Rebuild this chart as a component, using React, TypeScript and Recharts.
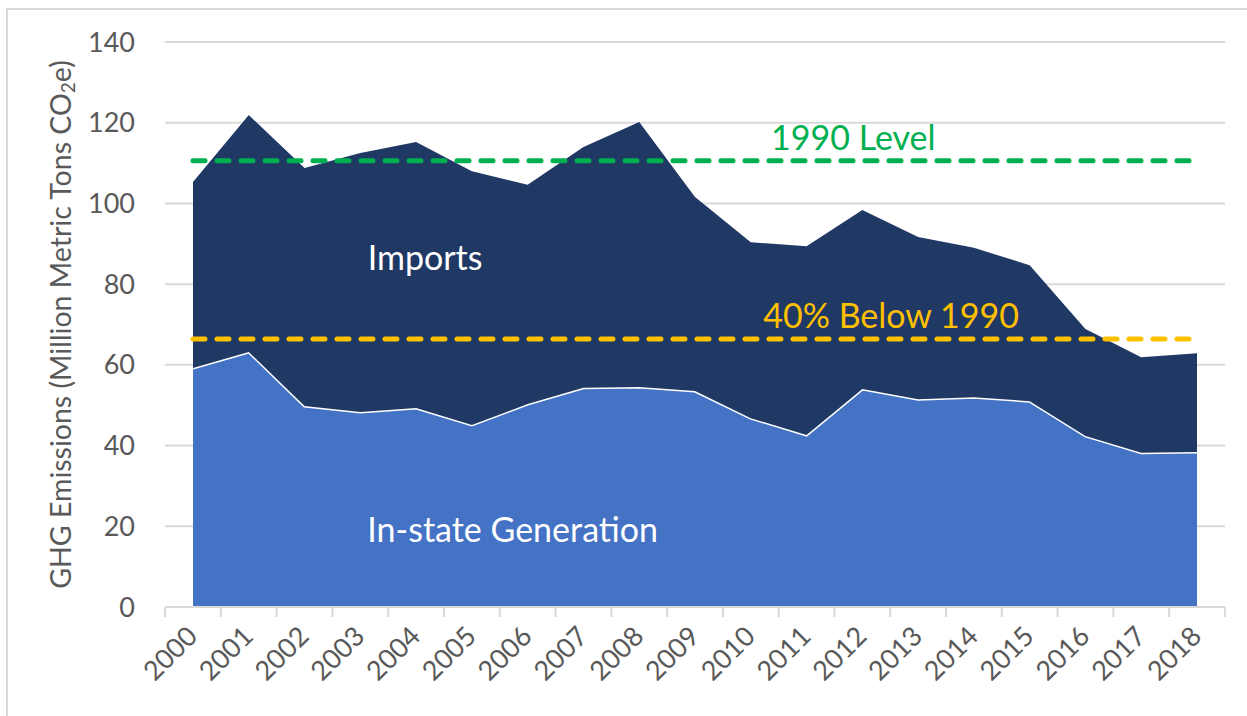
import {
  AreaChart,
  Area,
  XAxis,
  YAxis,
  CartesianGrid,
  ReferenceLine,
  ReferenceDot,
} from "recharts";

const years = [
  "2000", "2001", "2002", "2003", "2004", "2005", "2006", "2007", "2008", "2009",
  "2010", "2011", "2012", "2013", "2014", "2015", "2016", "2017", "2018",
];
const inState = [
  59.2, 63.2, 49.8, 48.3, 49.3, 45.1, 50.3, 54.3, 54.5, 53.5,
  46.8, 42.6, 54.0, 51.5, 52.0, 51.0, 42.4, 38.2, 38.4,
];
const imports = [
  46.1, 58.7, 59.0, 64.2, 65.9, 62.9, 54.3, 59.7, 65.7, 48.1,
  43.6, 46.8, 44.4, 40.2, 37.0, 33.7, 26.5, 23.7, 24.5,
];
const yTicks = [0, 20, 40, 60, 80, 100, 120, 140];
const level1990 = 110.6;
const below40 = 66.4;

const data = years.map((year, i) => ({ year, inState: inState[i], imports: imports[i] }));

const FONT = "Lato, 'Noto Sans', sans-serif";
const GRID = "#d9d9d9";
const TEXT = "#595959";
const PAD = 28;
const PLOT_W = 1060;
const STEP = (PLOT_W - 2 * PAD) / (years.length - 1);

function XTick(props: any) {
  const { x, y, payload, index } = props;
  return (
    <g>
      <line x1={x - STEP / 2} x2={x - STEP / 2} y1={y} y2={y + 10} stroke={GRID} strokeWidth={2} />
      {index === years.length - 1 && (
        <line x1={x + STEP / 2} x2={x + STEP / 2} y1={y} y2={y + 10} stroke={GRID} strokeWidth={2} />
      )}
      <text
        x={x + 6}
        y={y + 31}
        transform={`rotate(-45, ${x + 6}, ${y + 31})`}
        textAnchor="end"
        fill={TEXT}
        fontSize={27}
        fontFamily={FONT}
      >
        {payload.value}
      </text>
    </g>
  );
}

function YLabel(props: any) {
  const { viewBox } = props;
  const cx = viewBox.x + 60;
  const cy = viewBox.y + viewBox.height / 2;
  return (
    <text
      x={cx}
      y={cy}
      transform={`rotate(-90, ${cx}, ${cy})`}
      textAnchor="middle"
      dominantBaseline="central"
      fill={TEXT}
      fontSize={28.5}
      fontFamily={FONT}
    >
      GHG Emissions (Million Metric Tons CO
      <tspan fontSize={19} dy={7}>2</tspan>
      <tspan dy={-7}>e)</tspan>
    </text>
  );
}

export default function App() {
  return (
    <div style={{ position: "absolute", left: 0, top: 0, width: 1247, height: 716, background: "#fff", overflow: "hidden" }}>
      <div
        style={{
          position: "absolute",
          left: 6,
          top: 8,
          width: 1300,
          height: 760,
          border: `2px solid ${GRID}`,
          boxSizing: "border-box",
        }}
      />
      <div style={{ position: "absolute", left: 0, top: 0 }}>
        <AreaChart
          width={1247}
          height={716}
          data={data}
          margin={{ top: 42, right: 22, bottom: 9, left: 0 }}
        >
          <CartesianGrid vertical={false} stroke={GRID} strokeWidth={2} />
          <XAxis
            dataKey="year"
            padding={{ left: PAD, right: PAD }}
            axisLine={{ stroke: GRID, strokeWidth: 2 }}
            tickLine={false}
            tickSize={0}
            tickMargin={0}
            interval={0}
            height={100}
            tick={<XTick />}
          />
          <YAxis
            width={165}
            domain={[0, 140]}
            ticks={yTicks}
            axisLine={false}
            tickLine={false}
            tickSize={0}
            tickMargin={30}
            tick={{ fill: TEXT, fontSize: 27, fontFamily: FONT }}
            label={<YLabel />}
          />
          <Area
            type="linear"
            dataKey="inState"
            stackId="1"
            fill="#4472c4"
            fillOpacity={1}
            stroke="#ffffff"
            strokeWidth={3}
            isAnimationActive={false}
          />
          <Area
            type="linear"
            dataKey="imports"
            stackId="1"
            fill="#203864"
            fillOpacity={1}
            stroke="none"
            isAnimationActive={false}
          />
          <ReferenceLine
            segment={[{ x: "2000", y: level1990 }, { x: "2018", y: level1990 }]}
            stroke="#00b050"
            strokeWidth={5}
            strokeDasharray="12 12"
            strokeLinecap="round"
          />
          <ReferenceLine
            segment={[{ x: "2000", y: below40 }, { x: "2018", y: below40 }]}
            stroke="#ffc000"
            strokeWidth={5}
            strokeDasharray="12 12"
            strokeLinecap="round"
          />
          <ReferenceDot
            x="2012" y={116.2} r={0} fill="none" stroke="none"
            label={{ value: "1990 Level", position: "center", fill: "#00b050", fontSize: 34, fontFamily: FONT, dx: -9 }}
          />
          <ReferenceDot
            x="2013" y={72.1} r={0} fill="none" stroke="none"
            label={{ value: "40% Below 1990", position: "center", fill: "#ffc000", fontSize: 34, fontFamily: FONT, dx: -27 }}
          />
          <ReferenceDot
            x="2004" y={86.5} r={0} fill="none" stroke="none"
            label={{ value: "Imports", position: "center", fill: "#ffffff", fontSize: 34, fontFamily: FONT, dx: 9 }}
          />
          <ReferenceDot
            x="2006" y={19.1} r={0} fill="none" stroke="none"
            label={{ value: "In-state Generation", position: "center", fill: "#ffffff", fontSize: 34, fontFamily: FONT, dx: -15 }}
          />
        </AreaChart>
      </div>
    </div>
  );
}
